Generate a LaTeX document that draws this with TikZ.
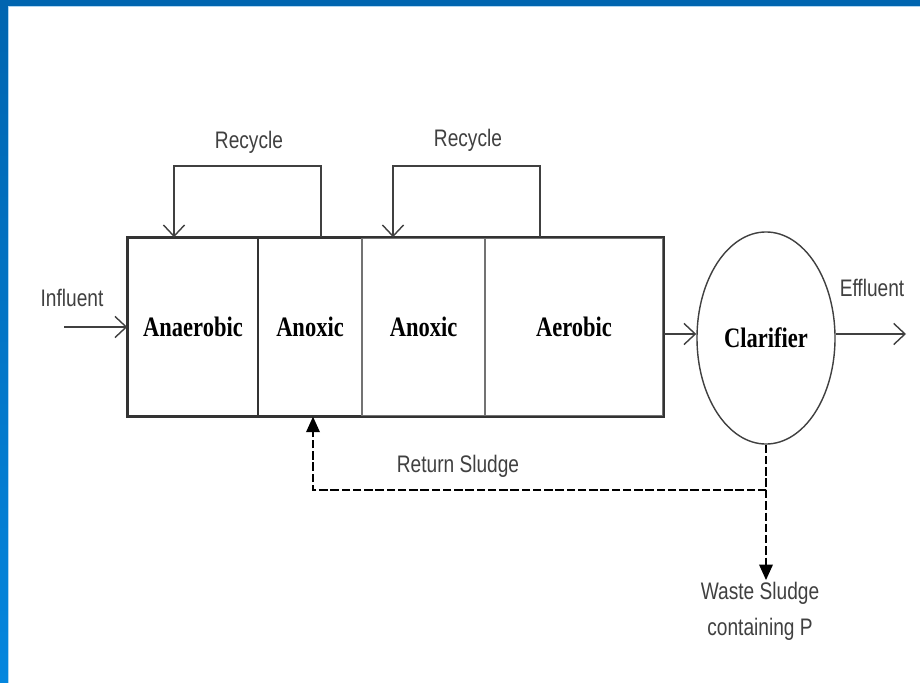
\documentclass[tikz,border=0pt]{standalone}
\usepackage{fontspec}
\usetikzlibrary{arrows.meta,shapes.geometric,calc}
\newfontfamily\labelfont[FakeStretch=0.8]{Liberation Sans}
\newfontfamily\tankfont[FakeStretch=0.8]{Liberation Serif}
\definecolor{slideblue}{RGB}{0,101,176}
\definecolor{slidebluelow}{RGB}{5,134,222}
\definecolor{slideedge}{RGB}{175,214,242}
\def\pxsize{0.025cm}

\begin{document}
\begin{tikzpicture}[x=\pxsize,y=-\pxsize,line width=1.2pt,draw=black!85]
    \tikzstyle{tank cell}=[rectangle,draw=black!80,line width=1pt,minimum height=4.45cm,inner sep=0pt,
      font=\tankfont\bfseries\fontsize{20}{24}\selectfont]
    \tikzstyle{tag}=[inner sep=0pt,text=black!75,font=\labelfont\fontsize{17}{26}\selectfont]
    \tikzstyle{flow}=[-{Straight Barb[length=8pt,width=15pt,line width=1pt]},draw=black!75]
    \tikzstyle{sludge}=[-{Triangle[length=11pt,width=10pt,line width=0pt]},draw=black,dash pattern=on 6pt off 2pt,line width=2pt]
    % slide frame
    \useasboundingbox (0,0) rectangle (920,683);
    \fill[white] (0,0) rectangle (920,683);
    \shade[top color=slideblue,bottom color=slidebluelow,draw=none] (0,0) rectangle (8,683);
    \fill[slideblue] (0,0) rectangle (920,6);
    \draw[slideedge,line width=1pt] (8.5,683) -- (8.5,6.5) -- (920,6.5);
    % tank and clarifier
      \node[tank cell,minimum width=3.25cm] (anaer) at (193,327) {\raisebox{-4pt}{Anaerobic}};
      \node[tank cell,minimum width=2.6cm] (anox1) at (310,327) {\raisebox{-4pt}{Anoxic}};
      \node[tank cell,minimum width=3.075cm,draw=black!55] (anox2) at (423.5,327) {\raisebox{-4pt}{Anoxic}};
      \node[tank cell,minimum width=4.45cm,draw=black!55] (aer) at (574,327) {\raisebox{-4pt}{Aerobic}};
      \draw[black!80,line width=1.5pt] (anaer.north west) rectangle (aer.south east);
      \node[ellipse,draw=black!75,line width=1pt,minimum width=3.45cm,minimum height=5.3cm,inner sep=0pt,
        font=\tankfont\bfseries\fontsize{20}{24}\selectfont] (clar) at (766,338) {Clarifier};
      \coordinate (inl) at (64,327);
      \coordinate (eff) at (906,334);
      \coordinate (split) at (766,490);
      \coordinate (waste) at (766,580);
    % flows
      \path (inl) edge [flow] (inl -| anaer.west);
      \path (aer.east |- eff) edge [flow] (clar.west |- eff);
      \path (clar.east |- eff) edge [flow] (eff);
      \draw[flow] ($(anox1.north)+(11,0)$) -- ++(0,-71) -| ($(anaer.north)+(-19,0)$);
      \draw[flow] ($(aer.north)+(-34,0)$) -- ++(0,-71) -| ($(anox2.north)+(-30.5,0)$);
      \draw[sludge] (clar.south) -- (split) -| ($(anox1.south)+(3,0)$);
      \path (split) edge [sludge] (waste);
    % labels
      \node[tag] (inltag) at (72,298) {Influent};
      \node[tag] (efftag) at (872,288) {Effluent};
      \node[tag] (rec1) at (249,142) {Recycle};
      \node[tag] (rec2) at (468,140) {Recycle};
      \node[tag] (rettag) at (458,466) {Return Sludge};
      \node[tag,align=center,anchor=north] (wastetag) at (760,581) {Waste Sludge\\containing P};
\end{tikzpicture}
\end{document}
